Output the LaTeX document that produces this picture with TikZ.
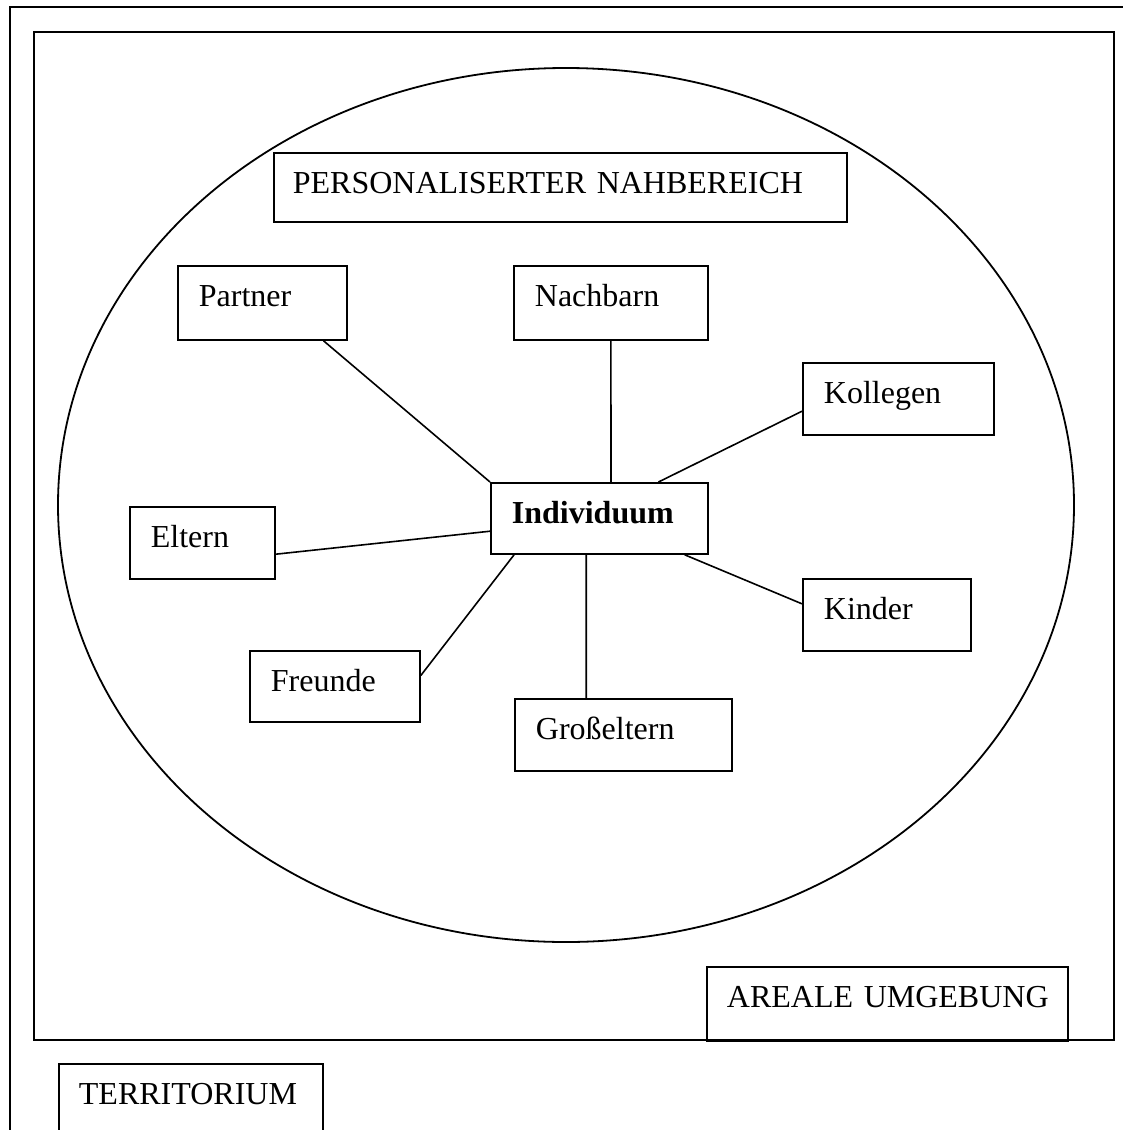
\documentclass[tikz,border=0pt]{standalone}
\usepackage{fontspec}
\setmainfont{Liberation Serif}
\usetikzlibrary{calc}
\begin{document}
\begin{tikzpicture}[x=1pt,y=-1pt,
  frame/.style={line width=2.2pt},
  box/.style={draw, line width=1.8pt, anchor=north west, inner xsep=21pt, inner ysep=0pt,
    text height=41pt, align=left, font=\fontsize{32}{38}\selectfont},
  link/.style={line width=1.6pt}]
\useasboundingbox (0,0) rectangle (1129,1130);
% outer frame (open to the right and bottom)
\draw[frame] (10,1140) -- (10,7) -- (1123,7);
% inner frame
\draw[frame] (34,32) rectangle (1114,1040);
% ellipse
\draw[line width=1.8pt] (566,505) ellipse [x radius=508, y radius=437];
% boxes
\node[box, text width=535pt, text depth=28pt, inner xsep=19pt] (pnb) at (273,152) {\mbox{PERSONALISERTER NAHBEREICH}};
\node[box, text width=127pt, text depth=33pt] (partner) at (177,265) {\mbox{Partner}};
\node[box, text width=152pt, text depth=33pt] (nachbarn) at (513,265) {\mbox{Nachbarn}};
\node[box, text width=149pt, text depth=31pt] (kollegen) at (802,362) {\mbox{Kollegen}};
\node[box, text width=103pt, text depth=31pt] (eltern) at (129,506) {\mbox{Eltern}};
\node[box, text width=175pt, text depth=30pt, font=\fontsize{32}{38}\selectfont\bfseries] (ind) at (490,482) {\mbox{Individuum}};
\node[box, text width=128pt, text depth=30pt] (freunde) at (249,650) {\mbox{Freunde}};
\node[box, text width=175pt, text depth=31pt] (gross) at (514,698) {\mbox{Großeltern}};
\node[box, text width=126pt, text depth=31pt] (kinder) at (802,578) {\mbox{Kinder}};
\node[box, text width=321pt, text depth=33pt, inner xsep=20pt] (areale) at (706,966) {\mbox{AREALE UMGEBUNG}};
\node[box, text width=224pt, text depth=40pt, inner xsep=20pt] (terr) at (58,1063) {\mbox{TERRITORIUM}};
% connectors
\draw[link] ($(partner.south west)!0.858!(partner.south east)$) -- (ind.north west);
\draw[link] (nachbarn.south) -- ($(ind.north west)!0.553!(ind.north east)$);
\draw[link] ($(kollegen.north west)!0.667!(kollegen.south west)$) -- ($(ind.north west)!0.77!(ind.north east)$);
\draw[link] ($(eltern.north east)!0.653!(eltern.south east)$) -- ($(ind.north west)!0.676!(ind.south west)$);
\draw[link] ($(freunde.north east)!0.35!(freunde.south east)$) -- ($(ind.south west)!0.11!(ind.south east)$);
\draw[link] ($(gross.north west)!0.33!(gross.north east)$) -- ($(ind.south west)!0.44!(ind.south east)$);
\draw[link] ($(kinder.north west)!0.35!(kinder.south west)$) -- ($(ind.south west)!0.89!(ind.south east)$);
\end{tikzpicture}
\end{document}
